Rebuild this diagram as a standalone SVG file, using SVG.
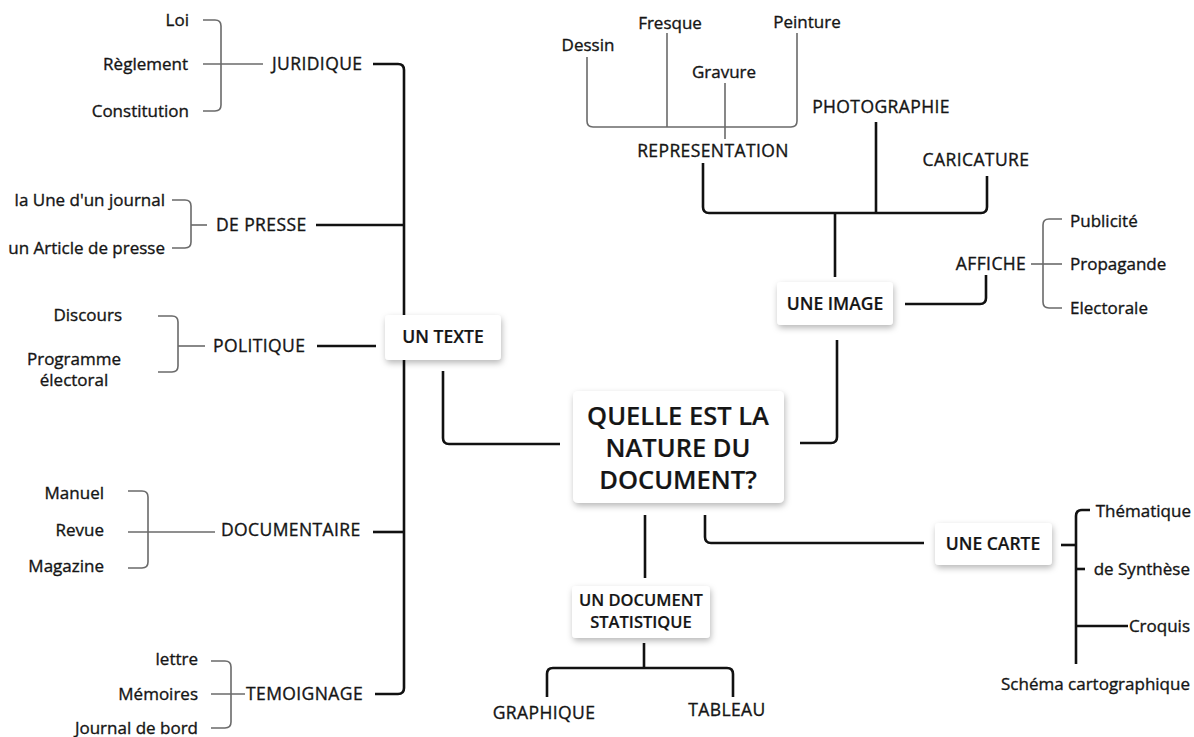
<svg xmlns="http://www.w3.org/2000/svg" width="1194" height="737" viewBox="0 0 1194 737">
<defs>
<filter id="sh" x="-20%" y="-30%" width="140%" height="170%">
<feDropShadow dx="1" dy="3" stdDeviation="3" flood-color="#000" flood-opacity="0.28"/>
</filter>
</defs>
<style>
.t{font-family:"Open Sans","Noto Sans",sans-serif;font-size:17px;font-weight:500;fill:#151515;stroke:#151515;stroke-width:0.35px}
.c{font-size:17.5px;letter-spacing:0.4px}
.b{font-weight:600;font-size:17.5px;stroke-width:0.2px}
.m{font-weight:600;font-size:25.5px;stroke-width:0.2px}
.s{font-weight:600;font-size:16.5px;stroke-width:0.2px}
.e{text-anchor:end}
.mid{text-anchor:middle}
.thin{fill:none;stroke:#6a6a6a;stroke-width:1.6}
.thick{fill:none;stroke:#111;stroke-width:2.6}
.box{fill:#fff;filter:url(#sh)}
</style>
<rect width="1194" height="737" fill="#fff"/>
<g id="connectors">
<path class="thick" d="M373,64 H398 Q404,64 404,70 V688 Q404,694 398,694 H375"/>
<path class="thick" d="M316,225 H404"/>
<path class="thick" d="M317,346 H376"/>
<path class="thick" d="M373,532 H404"/>
<path class="thick" d="M443,371 V438 Q443,444 449,444 H560"/>
<path class="thick" d="M800,443 H831 Q837,443 837,437 V340"/>
<path class="thick" d="M835,277 V213"/>
<path class="thick" d="M703,163 V207 Q703,213 709,213 H981 Q987,213 987,207 V176"/>
<path class="thick" d="M876,122 V213"/>
<path class="thick" d="M905,304 H980 Q986,304 986,298 V275"/>
<path class="thick" d="M645,515 V578"/>
<path class="thick" d="M705,515 V537 Q705,543 711,543 H924"/>
<path class="thick" d="M644,643 V668"/>
<path class="thick" d="M547,697 V674 Q547,668 553,668 H727 Q733,668 733,674 V697"/>
<path class="thick" d="M1061,545 H1076"/>
<path class="thick" d="M1076,664 V516 Q1076,510 1082,510 H1090"/>
<path class="thick" d="M1076,569 H1085"/>
<path class="thick" d="M1076,626 H1128"/>
<path class="thin" d="M203,20 H215 Q221,20 221,26 V105 Q221,111 215,111 H203"/>
<path class="thin" d="M203,64 H263"/>
<path class="thin" d="M172,200 H185 Q191,200 191,206 V242 Q191,248 185,248 H172"/>
<path class="thin" d="M191,225 H207"/>
<path class="thin" d="M158,316 H172 Q178,316 178,322 V366 Q178,372 172,372 H158"/>
<path class="thin" d="M178,346 H205"/>
<path class="thin" d="M128,491 H142 Q148,491 148,497 V562 Q148,568 142,568 H128"/>
<path class="thin" d="M128,532 H215"/>
<path class="thin" d="M211,661 H225 Q231,661 231,667 V722 Q231,728 225,728 H211"/>
<path class="thin" d="M211,694 H245"/>
<path class="thin" d="M587,57 V121 Q587,127 593,127 H791 Q797,127 797,121 V33"/>
<path class="thin" d="M667,33 V127"/>
<path class="thin" d="M725,83 V139"/>
<path class="thin" d="M1031,264 H1062"/>
<path class="thin" d="M1062,219 H1049 Q1043,219 1043,225 V302 Q1043,308 1049,308 H1062"/>
</g>
<g id="n-center">
<rect class="box" x="573" y="391" width="211" height="112" rx="5"/>
<text class="t m mid" x="678" y="425">QUELLE EST LA</text>
<text class="t m mid" x="678" y="457">NATURE DU</text>
<text class="t m mid" x="678" y="489">DOCUMENT?</text>
</g>
<g id="n-texte">
<rect class="box" x="385" y="315" width="116" height="45" rx="4"/>
<text class="t b mid" x="443" y="343">UN TEXTE</text>
</g>
<g id="n-image">
<rect class="box" x="777" y="282" width="116" height="43" rx="4"/>
<text class="t b mid" x="835" y="310">UNE IMAGE</text>
</g>
<g id="n-carte">
<rect class="box" x="935" y="523" width="117" height="42" rx="4"/>
<text class="t b mid" x="993" y="550">UNE CARTE</text>
</g>
<g id="n-stat">
<rect class="box" x="572" y="586" width="138" height="52" rx="4"/>
<text class="t s mid" x="641" y="606">UN DOCUMENT</text>
<text class="t s mid" x="641" y="628">STATISTIQUE</text>
</g>
<g id="n-juridique">
<text class="t c" x="272" y="70">JURIDIQUE</text>
<text class="t e" x="189" y="26">Loi</text>
<text class="t e" x="188" y="70">Règlement</text>
<text class="t e" x="189" y="117">Constitution</text>
</g>
<g id="n-presse">
<text class="t c" x="216" y="231">DE PRESSE</text>
<text class="t e" x="165" y="206">la Une d'un journal</text>
<text class="t e" x="165" y="254">un Article de presse</text>
</g>
<g id="n-politique">
<text class="t c" x="213" y="352">POLITIQUE</text>
<text class="t e" x="122" y="321">Discours</text>
<text class="t mid" x="74" y="365">Programme</text>
<text class="t mid" x="74" y="386">électoral</text>
</g>
<g id="n-documentaire">
<text class="t c" x="221" y="536">DOCUMENTAIRE</text>
<text class="t e" x="104" y="499">Manuel</text>
<text class="t e" x="104" y="536">Revue</text>
<text class="t e" x="104" y="572">Magazine</text>
</g>
<g id="n-temoignage">
<text class="t c" x="246" y="700">TEMOIGNAGE</text>
<text class="t e" x="198" y="665">lettre</text>
<text class="t e" x="198" y="700">Mémoires</text>
<text class="t e" x="198" y="734">Journal de bord</text>
</g>
<g id="n-representation">
<text class="t c mid" x="713" y="157">REPRESENTATION</text>
<text class="t mid" x="588" y="51">Dessin</text>
<text class="t mid" x="670" y="29">Fresque</text>
<text class="t mid" x="724" y="78">Gravure</text>
<text class="t mid" x="807" y="28">Peinture</text>
</g>
<g id="n-photographie">
<text class="t c mid" x="881" y="113">PHOTOGRAPHIE</text>
</g>
<g id="n-caricature">
<text class="t c mid" x="976" y="166">CARICATURE</text>
</g>
<g id="n-affiche">
<text class="t c mid" x="991" y="270">AFFICHE</text>
<text class="t" x="1070" y="227">Publicité</text>
<text class="t" x="1070" y="270">Propagande</text>
<text class="t" x="1070" y="314">Electorale</text>
</g>
<g id="n-carte-leaves">
<text class="t e" x="1191" y="517">Thématique</text>
<text class="t e" x="1190" y="575">de Synthèse</text>
<text class="t e" x="1190" y="632">Croquis</text>
<text class="t e" x="1190" y="690">Schéma cartographique</text>
</g>
<g id="n-stat-leaves">
<text class="t c mid" x="544" y="719">GRAPHIQUE</text>
<text class="t c mid" x="727" y="716">TABLEAU</text>
</g>
</svg>
